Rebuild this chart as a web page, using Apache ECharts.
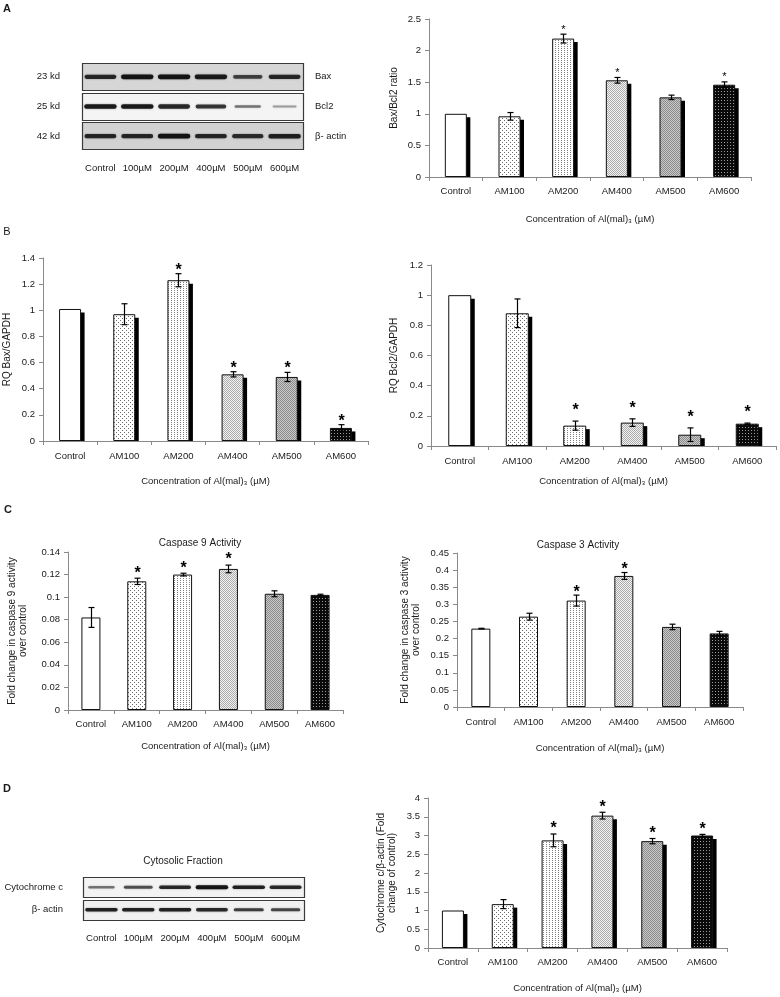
<!DOCTYPE html>
<html><head><meta charset="utf-8">
<script src="https://cdn.jsdelivr.net/npm/echarts@6/dist/echarts.min.js"></script>
<style>html,body{margin:0;padding:0;background:#fff}#c{width:780px;height:997px}</style>
</head><body><div id="c"></div>
<script>
// ---------------- DATA ----------------
const categories = ['Control', 'AM100', 'AM200', 'AM400', 'AM500', 'AM600'];
const xTitle = 'Concentration of Al(mal)₃ (µM)';

// Panel A - blot
const blotALanes = ['Control', '100µM', '200µM', '400µM', '500µM', '600µM'];
const blotARows = ['Bax', 'Bcl2', 'β- actin'];
const blotAMarkers = ['23 kd', '25 kd', '42 kd'];
const baxBand = [0.8, 0.95, 0.95, 0.9, 0.6, 0.8];
const bcl2Band = [0.9, 0.9, 0.8, 0.7, 0.35, 0.15];
const actinBandA = [0.8, 0.8, 0.95, 0.8, 0.75, 0.85];

// Panel A - Bax/Bcl2 ratio
const baxBcl2Mean = [1.0, 0.96, 2.19, 1.53, 1.26, 1.46];
const baxBcl2Err = [0, 0.06, 0.07, 0.045, 0.035, 0.045];
const baxBcl2Sig = [0, 0, 1, 1, 0, 1];
const baxBcl2Ticks = [0, 0.5, 1, 1.5, 2, 2.5];

// Panel B - RQ Bax/GAPDH
const rqBaxMean = [1.01, 0.97, 1.23, 0.51, 0.49, 0.10];
const rqBaxErr = [0, 0.08, 0.05, 0.02, 0.035, 0.025];
const rqBaxSig = [0, 0, 1, 1, 1, 1];
const rqBaxTicks = [0, 0.2, 0.4, 0.6, 0.8, 1, 1.2, 1.4];

// Panel B - RQ Bcl2/GAPDH
const rqBcl2Mean = [1.0, 0.88, 0.135, 0.155, 0.075, 0.148];
const rqBcl2Err = [0, 0.095, 0.03, 0.025, 0.045, 0.004];
const rqBcl2Sig = [0, 0, 1, 1, 1, 1];
const rqBcl2Ticks = [0, 0.2, 0.4, 0.6, 0.8, 1, 1.2];

// Panel C - Caspase 9
const casp9Mean = [0.082, 0.114, 0.120, 0.125, 0.103, 0.102];
const casp9Err = [0.0088, 0.0028, 0.0012, 0.0034, 0.0026, 0.0006];
const casp9Sig = [0, 1, 1, 1, 0, 0];
const casp9Ticks = [0, 0.02, 0.04, 0.06, 0.08, 0.1, 0.12, 0.14];

// Panel C - Caspase 3
const casp3Mean = [0.229, 0.264, 0.311, 0.383, 0.234, 0.215];
const casp3Err = [0.001, 0.01, 0.016, 0.01, 0.008, 0.006];
const casp3Sig = [0, 0, 1, 1, 0, 0];
const casp3Ticks = [0, 0.05, 0.1, 0.15, 0.2, 0.25, 0.3, 0.35, 0.4, 0.45];

// Panel D - blot
const blotDLanes = ['Control', '100µM', '200µM', '400µM', '500µM', '600µM'];
const blotDRows = ['Cytochrome c', 'β- actin'];
const cytcBand = [0.35, 0.55, 0.8, 0.95, 0.85, 0.8];
const actinBandD = [0.85, 0.85, 0.85, 0.8, 0.65, 0.6];

// Panel D - Cytochrome c / beta-actin
const cytcMean = [1.0, 1.17, 2.87, 3.53, 2.85, 3.0];
const cytcErr = [0, 0.12, 0.17, 0.09, 0.07, 0.03];
const cytcSig = [0, 0, 1, 1, 1, 1];
const cytcTicks = [0, 0.5, 1, 1.5, 2, 2.5, 3, 3.5, 4];

// ---------------- STYLE ----------------
const FONT = '"Liberation Sans", Arial, Helvetica, sans-serif';
const TXT = '#1a1a1a';
const AX = '#8a8a8a';

function mkPat(bg, fg, w, h, pts) {
  const c = document.createElement('canvas');
  c.width = w; c.height = h;
  const g = c.getContext('2d');
  g.fillStyle = bg; g.fillRect(0, 0, w, h);
  g.fillStyle = fg;
  pts.forEach(p => g.fillRect(p[0], p[1], 1, 1));
  return { image: c, repeat: 'repeat' };
}
const fills = [
  '#ffffff',
  mkPat('#ffffff', '#6a6a6a', 4, 4, [[0, 0], [2, 2]]),
  mkPat('#ffffff', '#808080', 3, 2, [[0, 0]]),
  mkPat('#f2f2f2', '#acacac', 2, 2, [[0, 0], [1, 1]]),
  mkPat('#c8c8c8', '#8c8c8c', 2, 2, [[0, 0], [1, 1]]),
  mkPat('#0a0a0a', '#9a9a9a', 3, 3, [[1, 1]])
];

const chartDefs = [
  { mean: baxBcl2Mean, err: baxBcl2Err, sig: baxBcl2Sig, ticks: baxBcl2Ticks, yName: 'Bax/Bcl2 ratio' },
  { mean: rqBaxMean, err: rqBaxErr, sig: rqBaxSig, ticks: rqBaxTicks, yName: 'RQ Bax/GAPDH' },
  { mean: rqBcl2Mean, err: rqBcl2Err, sig: rqBcl2Sig, ticks: rqBcl2Ticks, yName: 'RQ Bcl2/GAPDH' },
  { mean: casp9Mean, err: casp9Err, sig: casp9Sig, ticks: casp9Ticks, yName: 'Fold change in caspase 9 activity\nover control' },
  { mean: casp3Mean, err: casp3Err, sig: casp3Sig, ticks: casp3Ticks, yName: 'Fold change in caspase 3 activity\nover control' },
  { mean: cytcMean, err: cytcErr, sig: cytcSig, ticks: cytcTicks, yName: 'Cytochrome c/β-actin (Fold\nchange of control)' }
];
const chartStyle = [
  { grid: { left: 429, top: 19, width: 322, height: 158 }, barW: 22, shadow: true, lm: 9, xGap: 37, yGap: 29, star: { size: 11, bold: false, off: 4.6 } },
  { grid: { left: 43, top: 258, width: 325, height: 183 }, barW: 22, shadow: true, lm: 10, xGap: 35, yGap: 30, star: { size: 16, bold: true, off: 3.5 } },
  { grid: { left: 431, top: 265, width: 345, height: 181 }, barW: 23, shadow: true, lm: 10, xGap: 30, yGap: 31, star: { size: 16, bold: true, off: 10.5 } },
  { grid: { left: 68, top: 552, width: 275, height: 158 }, barW: 19, shadow: false, lm: 9, xGap: 31, yGap: 39, star: { size: 16, bold: true, off: 5 } },
  { grid: { left: 457, top: 553, width: 286, height: 154 }, barW: 19, shadow: false, lm: 10, xGap: 36, yGap: 35, star: { size: 16, bold: true, off: 2.5 } },
  { grid: { left: 428, top: 798, width: 299, height: 150 }, barW: 22, shadow: true, lm: 9, xGap: 35, yGap: 30, star: { size: 16, bold: true, off: 5 } }
];

const grids = [], xAxes = [], yAxes = [], series = [];

chartDefs.forEach((d, i) => {
  const s = chartStyle[i];
  grids.push(Object.assign({ outerBoundsMode: 'none', containLabel: false }, s.grid));
  xAxes.push({
    type: 'category', gridIndex: i, data: categories,
    axisLine: { show: true, lineStyle: { color: AX, width: 1 } },
    axisTick: { show: true, length: 4, lineStyle: { color: AX } },
    axisLabel: { color: TXT, fontSize: 9.5, fontFamily: FONT, margin: s.lm, interval: 0 },
    splitLine: { show: false },
    name: xTitle, nameLocation: 'middle', nameGap: s.xGap,
    nameTextStyle: { color: TXT, fontSize: 9.5, fontFamily: FONT }
  });
  const tk = d.ticks;
  yAxes.push({
    type: 'value', gridIndex: i, min: tk[0], max: tk[tk.length - 1], interval: tk[1] - tk[0],
    axisLine: { show: true, lineStyle: { color: AX, width: 1 } },
    axisTick: { show: true, length: 4, lineStyle: { color: AX } },
    axisLabel: { color: TXT, fontSize: 9.5, fontFamily: FONT, margin: 8 },
    splitLine: { show: false },
    name: d.yName, nameLocation: 'middle', nameGap: s.yGap, nameRotate: 90,
    nameTextStyle: { color: TXT, fontSize: 10, fontFamily: FONT, lineHeight: 11.5 }
  });
  if (s.shadow) {
    series.push({
      type: 'custom', xAxisIndex: i, yAxisIndex: i, z: 2, silent: true,
      data: d.mean.map((v, j) => [j, v]),
      renderItem: (params, api) => {
        const top = api.coord([api.value(0), api.value(1)]);
        const base = api.coord([api.value(0), 0]);
        const w = s.barW;
        return {
          type: 'rect',
          shape: { x: top[0] - w / 2 + 3.5, y: top[1] + 3.5, width: w, height: Math.max(0, base[1] - top[1] - 3.5) },
          style: { fill: '#000' }
        };
      }
    });
  }
  series.push({
    type: 'bar', xAxisIndex: i, yAxisIndex: i, z: 3, barWidth: s.barW, silent: true,
    itemStyle: { borderColor: '#111', borderWidth: 1 },
    data: d.mean.map((v, j) => ({ value: v, itemStyle: { color: fills[j] } }))
  });
  series.push({
    type: 'custom', xAxisIndex: i, yAxisIndex: i, z: 5, silent: true,
    data: d.mean.map((v, j) => [j, v, d.err[j], d.sig[j]]),
    renderItem: (params, api) => {
      const j = api.value(0), m = api.value(1), e = api.value(2), sg = api.value(3);
      const hi = api.coord([j, m + e]), lo = api.coord([j, m - e]);
      const x = Math.round(hi[0]) + 0.5;
      const ch = [];
      if (e > 0) {
        const st = { stroke: '#000', lineWidth: 1.2 };
        ch.push({ type: 'line', shape: { x1: x, y1: hi[1], x2: x, y2: lo[1] }, style: st });
        ch.push({ type: 'line', shape: { x1: x - 3, y1: hi[1], x2: x + 3, y2: hi[1] }, style: st });
        ch.push({ type: 'line', shape: { x1: x - 3, y1: lo[1], x2: x + 3, y2: lo[1] }, style: st });
      }
      if (sg) {
        ch.push({
          type: 'text', x: x, y: hi[1] - s.star.off,
          style: {
            text: '*', fill: '#000', textAlign: 'center', textVerticalAlign: 'middle',
            align: 'center', verticalAlign: 'middle',
            font: (s.star.bold ? 'bold ' : '') + s.star.size + 'px ' + FONT
          }
        });
      }
      return { type: 'group', children: ch };
    }
  });
});

// ---------------- BLOTS ----------------
const blots = [
  { lanes: blotALanes, rows: blotARows, markers: blotAMarkers, bands: [baxBand, bcl2Band, actinBandA] },
  { lanes: blotDLanes, rows: blotDRows, markers: null, bands: [cytcBand, actinBandD] }
];
const blotStyle = [
  { grid: { left: 82, top: 62, width: 221, height: 89 }, bg: ['#d6d6d6', '#f4f4f4', '#d2d2d2'], lm: 12, leftM: 22, rightM: 12, thick: 5 },
  { grid: { left: 83, top: 876, width: 221, height: 45 }, bg: ['#f3f3f3', '#f1f1f1'], lm: 12, leftM: 20, rightM: 12, thick: 4 }
];

blots.forEach((b, k) => {
  const s = blotStyle[k];
  const gi = grids.length;
  grids.push(Object.assign({ outerBoundsMode: 'none', containLabel: false }, s.grid));
  const xi = xAxes.length;
  xAxes.push({
    type: 'category', gridIndex: gi, data: b.lanes, position: 'bottom',
    axisLine: { show: false }, axisTick: { show: false }, splitLine: { show: false },
    axisLabel: { color: TXT, fontSize: 9.5, fontFamily: FONT, margin: s.lm, interval: 0 }
  });
  const yi = yAxes.length;
  yAxes.push({
    type: 'category', gridIndex: gi, data: b.markers || b.rows, inverse: true, position: 'left',
    axisLine: { show: false }, axisTick: { show: false }, splitLine: { show: false },
    axisLabel: { color: TXT, fontSize: 9.5, fontFamily: FONT, margin: s.leftM }
  });
  if (b.markers) {
    yAxes.push({
      type: 'category', gridIndex: gi, data: b.rows, inverse: true, position: 'right',
      axisLine: { show: false }, axisTick: { show: false }, splitLine: { show: false },
      axisLabel: { color: TXT, fontSize: 9.5, fontFamily: FONT, margin: s.rightM }
    });
  }
  // frames
  series.push({
    type: 'custom', xAxisIndex: xi, yAxisIndex: yi, z: 1, silent: true,
    data: b.rows.map((r, ri) => [0, ri]),
    renderItem: (params, api) => {
      const ri = api.value(1);
      const c = api.coord([0, ri]);
      const sz = api.size([1, 1]);
      const cs = params.coordSys;
      const y0 = Math.round(c[1] - sz[1] / 2 + 1) + 0.5;
      const h = Math.round(sz[1] - 2.5);
      return {
        type: 'rect',
        shape: { x: cs.x + 0.5, y: y0, width: cs.width, height: h },
        style: { fill: s.bg[ri], stroke: '#3a3a3a', lineWidth: 1.2 }
      };
    }
  });
  // bands
  const bandData = [];
  b.bands.forEach((arr, ri) => arr.forEach((v, li) => bandData.push([li, ri, v])));
  series.push({
    type: 'custom', xAxisIndex: xi, yAxisIndex: yi, z: 2, silent: true,
    data: bandData,
    renderItem: (params, api) => {
      const li = api.value(0), ri = api.value(1), v = api.value(2);
      const c = api.coord([li, ri]);
      const sz = api.size([1, 1]);
      const w = sz[0] * (0.55 + 0.33 * Math.min(1, v + 0.15));
      const h = 1.5 + (s.thick - 1.5) * v;
      return {
        type: 'rect',
        shape: { x: c[0] - w / 2, y: c[1] - h / 2, width: w, height: h, r: h / 2 },
        style: { fill: 'rgba(15,15,15,' + (0.2 + 0.8 * v).toFixed(2) + ')', shadowBlur: 2, shadowColor: 'rgba(0,0,0,0.45)' }
      };
    }
  });
});

// ---------------- FREE TEXT ----------------
function txt(t, x, y, size, bold) {
  return {
    type: 'text', x: x, y: y, silent: true,
    style: { text: t, fill: TXT, font: (bold ? 'bold ' : '') + size + 'px ' + FONT, textAlign: 'center', textVerticalAlign: 'middle', align: 'center', verticalAlign: 'middle' }
  };
}
const graphics = [
  txt('A', 7, 9, 11, true),
  txt('B', 7, 232, 11, false),
  txt('C', 8, 510, 11, true),
  txt('D', 7, 789, 11, true),
  txt('Caspase 9 Activity', 200, 543, 10, false),
  txt('Caspase 3 Activity', 578, 545, 10, false),
  txt('Cytosolic Fraction', 183, 861, 10, false)
];

const chart = echarts.init(document.getElementById('c'), null, { renderer: 'canvas' });
chart.setOption({
  backgroundColor: '#ffffff',
  animation: false,
  textStyle: { fontFamily: FONT },
  grid: grids, xAxis: xAxes, yAxis: yAxes, series: series,
  graphic: graphics
});
</script></body></html>
